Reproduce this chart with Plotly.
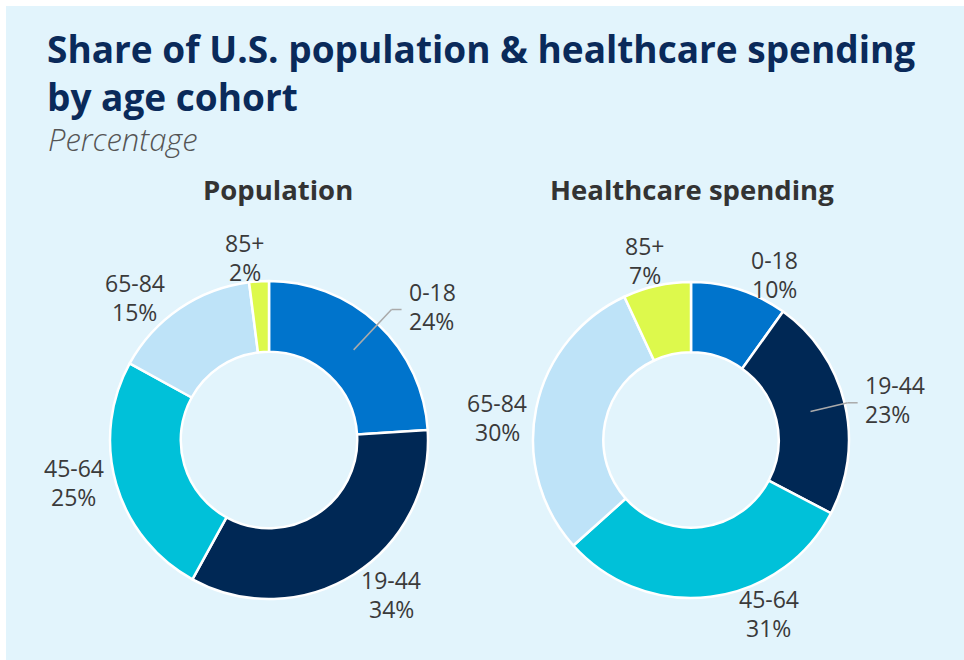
import math
import plotly.graph_objects as go

# ---- data ----
cohorts = ["0-18", "19-44", "45-64", "65-84", "85+"]
population_share = [24, 34, 25, 15, 2]
spending_share = [10, 23, 31, 30, 7]
panel_titles = ["Population", "Healthcare spending"]

colors = ["#0074CC", "#002855", "#00C1D9", "#BEE3F8", "#DDF94C"]
W, H = 964, 660
BG = "#E2F4FC"
FONT = "Open Sans"

# pie geometry in pixels: centre x, centre y, outer radius
pies = [
    dict(cx=269, cy=440, r=159, values=population_share, title=panel_titles[0], tx=278),
    dict(cx=691, cy=440, r=158, values=spending_share, title=panel_titles[1], tx=692),
]
HOLE = 0.555

# label placement: (angle nudge in degrees, radius in px, leader line?)
label_place = [
    [(0, 0, True), (-6, 197, False), (4, 200, False), (-9, 196, False), (-4, 184, False)],
    [(9, 185, False), (0, 0, True), (-17, 190, False), (-5, 195, False), (-2, 185, False)],
]
leader_end = [179, 161]

def px(x):
    return x / W

def py(y):
    return 1 - y / H

fig = go.Figure()
annotations = []
shapes = [dict(type="rect", xref="paper", yref="paper", x0=px(6), x1=1.0, y0=0.0, y1=py(6),
               fillcolor=BG, line=dict(width=0), layer="below")]

for pi, p in enumerate(pies):
    cx, cy, r = p["cx"], p["cy"], p["r"]
    fig.add_trace(go.Pie(
        labels=cohorts, values=p["values"], sort=False, direction="clockwise",
        rotation=0, hole=HOLE, textinfo="none", hoverinfo="label+percent",
        marker=dict(colors=colors, line=dict(color="white", width=2.5)),
        domain=dict(x=[px(cx - r), px(cx + r)], y=[py(cy + r), py(cy - r)]),
        showlegend=False,
    ))
    annotations.append(dict(x=px(p["tx"]), y=py(190), xref="paper", yref="paper",
                            text=f"<b>{p['title']}</b>", showarrow=False,
                            font=dict(family=FONT, size=27.5, color="#333333"),
                            xanchor="center", yanchor="middle"))
    total = sum(p["values"])
    cum = 0
    for i, (lab, v) in enumerate(zip(cohorts, p["values"])):
        mid = (cum + v / 2) / total * 360
        cum += v
        dth, rad, lead = label_place[pi][i]
        if lead:
            a = math.radians(mid)
            r0 = (r * HOLE + r) / 2
            x0, y0 = cx + r0 * math.sin(a), cy - r0 * math.cos(a)
            x1, y1 = cx + leader_end[pi] * math.sin(a), cy - leader_end[pi] * math.cos(a)
            x2 = x1 + 10
            for (xa, ya, xb, yb) in [(x0, y0, x1, y1), (x1, y1, x2, y1)]:
                shapes.append(dict(type="line", xref="paper", yref="paper",
                                   x0=px(xa), y0=py(ya), x1=px(xb), y1=py(yb),
                                   line=dict(color="#AAAAAA", width=1.5)))
            lx, ly, anchor = x2 + 5, y1 - 3, "left"
        else:
            a = math.radians(mid + dth)
            lx, ly, anchor = cx + rad * math.sin(a), cy - rad * math.cos(a), "center"
        for txt, dy in [(lab, -14.5), (f"{v}%", 14.5)]:
            annotations.append(dict(x=px(lx), y=py(ly + dy), xref="paper", yref="paper",
                                    text=txt, showarrow=False, xanchor=anchor, yanchor="middle",
                                    font=dict(family=FONT, size=23, color="#3A3A3A")))

TITLE_COLOR = "#0A2A5A"
annotations.append(dict(x=px(45), y=py(49), xref="paper", yref="paper",
                        text="<b>Share of U.S. population & healthcare spending</b>",
                        showarrow=False, xanchor="left", yanchor="middle",
                        font=dict(family=FONT, size=37, color=TITLE_COLOR)))
annotations.append(dict(x=px(45), y=py(96), xref="paper", yref="paper",
                        text="<b>by age cohort</b>",
                        showarrow=False, xanchor="left", yanchor="middle",
                        font=dict(family=FONT, size=37, color=TITLE_COLOR)))
annotations.append(dict(x=px(46), y=py(139), xref="paper", yref="paper",
                        text="<i>Percentage</i>",
                        showarrow=False, xanchor="left", yanchor="middle",
                        font=dict(family=FONT, size=31, color="#555555", weight=300)))

fig.update_layout(
    width=W, height=H, margin=dict(l=0, r=0, t=0, b=0),
    paper_bgcolor="white", plot_bgcolor="white",
    annotations=annotations, shapes=shapes,
)

fig.write_html("out.html", config=dict(displayModeBar=False))
